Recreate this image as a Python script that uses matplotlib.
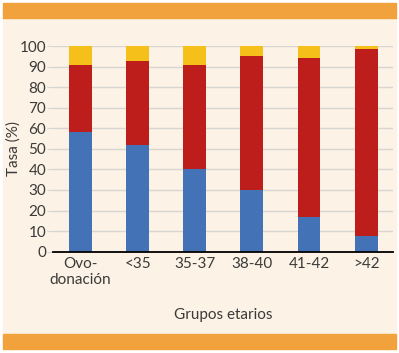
import matplotlib
matplotlib.use("Agg")
import matplotlib.pyplot as plt
from matplotlib.patches import Rectangle

plt.rcParams['font.family'] = ['Lato', 'DejaVu Sans']

# datos
grupos = ["Ovo-\ndonación", "<35", "35-37", "38-40", "41-42", ">42"]
azul = [58, 52, 40, 30, 17, 7.5]
rojo = [33, 40.5, 51, 65, 77, 91]
amarillo = [9, 7.5, 9, 5, 6, 1.5]

C_AZUL = "#4472B6"
C_ROJO = "#BE1E1B"
C_AMAR = "#F5C01A"
C_FONDO = "#FCF2E5"
C_NARANJA = "#F2A23C"
C_GRID = "#D8D5D3"
C_TXT = "#3A3A3A"

fig = plt.figure(figsize=(3.99, 3.53), dpi=100)
fig.patch.set_facecolor("white")

# fondo crema y bandas naranjas
fig.patches.append(Rectangle((3/399, 1-334/353), 393/399, 316/353,
                             transform=fig.transFigure, color=C_FONDO, zorder=-2))
fig.patches.append(Rectangle((3/399, 1-18/353), 393/399, 15/353,
                             transform=fig.transFigure, color=C_NARANJA, zorder=-1))
fig.patches.append(Rectangle((3/399, 1-349/353), 393/399, 15/353,
                             transform=fig.transFigure, color=C_NARANJA, zorder=-1))

ax = fig.add_axes([53/399, 1-251.7/353, 340/399, 205.7/353])
ax.set_zorder(5)
ax.set_facecolor("none")

x = list(range(len(grupos)))
w = 0.4
ax.bar(x, azul, width=w, color=C_AZUL, zorder=3)
base2 = azul
ax.bar(x, rojo, width=w, bottom=base2, color=C_ROJO, zorder=3)
base3 = [a + r for a, r in zip(azul, rojo)]
ax.bar(x, amarillo, width=w, bottom=base3, color=C_AMAR, zorder=3, clip_on=False)

ax.set_ylim(0, 100)
ax.set_xlim(-0.48, 5.47)
ax.set_yticks(range(0, 101, 10))
ax.grid(axis="y", color=C_GRID, linewidth=1, zorder=0)
ax.set_axisbelow(True)

for s in ["top", "right", "left"]:
    ax.spines[s].set_visible(False)
ax.spines["bottom"].set_color("black")
ax.spines["bottom"].set_linewidth(1.3)
ax.spines["bottom"].set_zorder(4)

ax.tick_params(axis="y", length=4, color=C_GRID, labelsize=11, labelcolor=C_TXT, pad=1)
ax.tick_params(axis="x", length=0, labelsize=11, labelcolor=C_TXT, pad=4)
ax.set_xticks(x)
ax.set_xticklabels(grupos, linespacing=1.15)

ax.set_ylabel("Tasa (%)", fontsize=11, color=C_TXT)
ax.yaxis.set_label_coords(-0.094, 0.5)
ax.set_xlabel("Grupos etarios", fontsize=11, color=C_TXT, labelpad=15)

fig.savefig("out.png", dpi=100)
